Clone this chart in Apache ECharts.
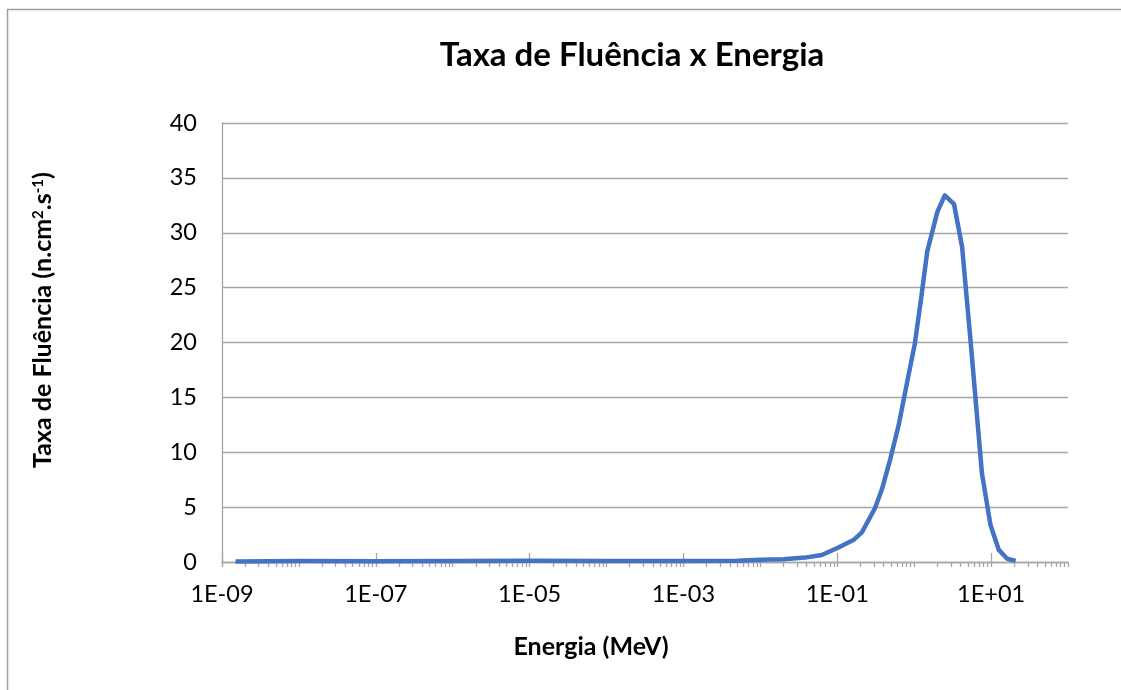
<!DOCTYPE html>
<html>
<head>
<meta charset="utf-8">
<script src="https://cdn.jsdelivr.net/npm/echarts@6/dist/echarts.min.js"></script>
<style>
  html, body { margin: 0; padding: 0; background: #fff; }
  #chart { width: 1121px; height: 690px; }
</style>
</head>
<body>
<div id="chart"></div>
<script>
// Neutron energy (MeV) and fluence rate samples
const energia = [
  1.5e-9, 1e-8, 1e-7, 1e-6, 1e-5, 1e-4, 1e-3, 5e-3, 1e-2, 2e-2,
  0.038, 0.063, 0.102, 0.162, 0.209, 0.309, 0.38, 0.49, 0.63, 0.79,
  1.02, 1.23, 1.48, 2.0, 2.5, 3.3, 4.2, 5.4, 7.6, 9.8,
  12.6, 16.2, 20.9
];
const fluencia = [
  0.05, 0.08, 0.07, 0.08, 0.12, 0.08, 0.1, 0.12, 0.2, 0.25,
  0.4, 0.64, 1.3, 2.0, 2.7, 4.9, 6.6, 9.4, 12.5, 16.0,
  19.9, 24.0, 28.3, 31.9, 33.4, 32.6, 28.7, 20.2, 8.1, 3.4,
  1.1, 0.3, 0.1
];

// Labelled decades on the energy axis
const majorTicks = [1e-9, 1e-7, 1e-5, 1e-3, 1e-1, 1e1];
// Minor ticks: 1..9 x 10^k for every decade of the axis
const minorTicks = [];
for (let k = -9; k <= 1; k++) {
  for (let m = 1; m <= 9; m++) {
    minorTicks.push(m * Math.pow(10, k));
  }
}
minorTicks.push(100);

const fmtExp = v => {
  const e = Math.round(Math.log10(v));
  const s = e < 0 ? '-' : '+';
  const a = Math.abs(e);
  return '1E' + s + (a < 10 ? '0' + a : '' + a);
};

const FONT = 'Lato, "Open Sans", sans-serif';
const GRID_COLOR = '#a6a6a6';

const chart = echarts.init(document.getElementById('chart'), null, { renderer: 'canvas' });

chart.setOption({
  animation: false,
  backgroundColor: '#fff',
  title: [{
    text: 'Taxa de Fluência x Energia',
    left: 627, top: 34, textAlign: 'center',
    textStyle: { fontFamily: FONT, fontSize: 33, fontWeight: 'bold', color: '#000' }
  }, {
    text: 'Energia (MeV)',
    left: 586, top: 629, textAlign: 'center',
    textStyle: { fontFamily: FONT, fontSize: 25, fontWeight: 'bold', color: '#000' }
  }],
  graphic: [{
    type: 'rect',
    shape: { x: 7.5, y: 9.5, width: 1300, height: 900 },
    style: { fill: 'none', stroke: '#a0a0a0', lineWidth: 1.5 },
    silent: true, z: -1
  }, {
    type: 'text',
    x: 43, y: 320,
    rotation: Math.PI / 2,
    style: {
      text: 'Taxa de Fluência (n.cm{sup|2}.s{sup|-1})',
      fontFamily: FONT, fontSize: 25, fontWeight: 'bold', fill: '#000',
      align: 'center', verticalAlign: 'middle',
      rich: {
        sup: { fontFamily: FONT, fontSize: 15, fontWeight: 'bold', fill: '#000', verticalAlign: 'top', padding: [0, 0, 10, 0] }
      }
    }
  }],
  grid: { left: 222, top: 123, right: 53, bottom: 128, containLabel: false },
  xAxis: [{
    type: 'log',
    logBase: 10,
    min: 1e-9, max: 100,
    position: 'bottom',
    axisLine: { show: true, lineStyle: { color: GRID_COLOR, width: 1.3 } },
    axisTick: { show: true, inside: false, length: 5, customValues: minorTicks, lineStyle: { color: GRID_COLOR, width: 1.3 } },
    axisLabel: {
      customValues: majorTicks,
      formatter: fmtExp,
      fontFamily: FONT, fontSize: 23.5, color: '#000', margin: 20
    },
    splitLine: { show: false },
    minorTick: { show: false }
  }, {
    type: 'log',
    logBase: 10,
    min: 1e-9, max: 100,
    position: 'bottom',
    axisLine: { show: false },
    axisTick: { show: true, inside: true, length: 9, customValues: majorTicks, lineStyle: { color: GRID_COLOR, width: 1.3 } },
    axisLabel: { show: false },
    splitLine: { show: false }
  }],
  yAxis: {
    type: 'value',
    min: 0, max: 40, interval: 5,
    axisLine: { show: true, lineStyle: { color: GRID_COLOR, width: 1.3 } },
    axisTick: { show: false },
    axisLabel: { fontFamily: FONT, fontSize: 23.5, color: '#000', margin: 25 },
    splitLine: { show: true, lineStyle: { color: GRID_COLOR, width: 1.3 } }
  },
  series: [{
    type: 'line',
    xAxisIndex: 0,
    data: energia.map((e, i) => [e, fluencia[i]]),
    showSymbol: false,
    smooth: false,
    lineStyle: { color: '#4472C4', width: 4.5, join: 'round' },
    z: 5
  }]
});
</script>
</body>
</html>
